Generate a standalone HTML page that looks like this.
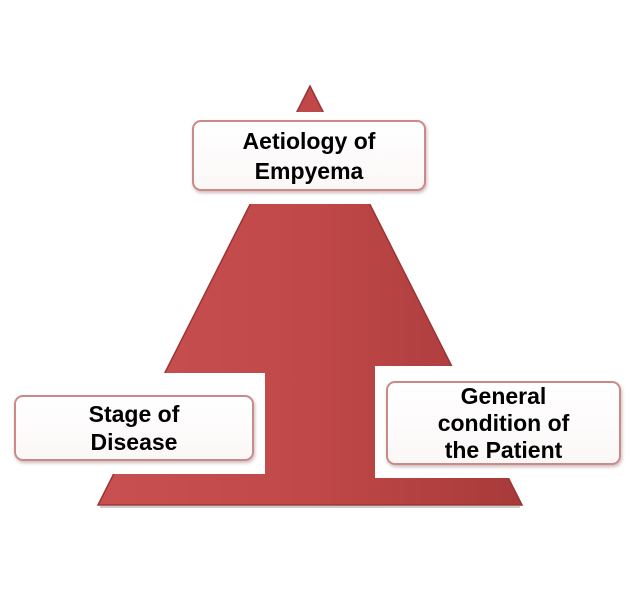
<!DOCTYPE html>
<html><head><style>
body{margin:0;width:630px;height:601px;background:#fff;position:relative;overflow:hidden;font-family:"Liberation Sans",Arial,sans-serif}
.bk{position:absolute;background:#fff}
.box{position:absolute;border:2px solid #c98a8a;border-radius:9px;background:linear-gradient(#fff,#fbf7f7);box-shadow:1px 2px 3px rgba(120,60,60,.35);display:flex;align-items:center;justify-content:center;text-align:center;font-weight:bold;font-size:23px;line-height:28px;color:#000;box-sizing:border-box}
</style></head><body>
<svg width="630" height="601" style="position:absolute;left:0;top:0">
<defs><linearGradient id="g" x1="0" y1="0" x2="1" y2="0">
<stop offset="0" stop-color="#c85050"/><stop offset=".5" stop-color="#c04848"/><stop offset="1" stop-color="#a83a3a"/></linearGradient></defs>
<polygon points="310,86 98,505 522,505" fill="url(#g)" stroke="#9a3535" stroke-width="1.5"/>
<line x1="100" y1="507" x2="520" y2="507" stroke="#ccc" stroke-width="2"/>
</svg>
<div class="bk" style="left:185px;top:112px;width:250px;height:92px"></div>
<div class="bk" style="left:0;top:373px;width:265px;height:101px"></div>
<div class="bk" style="left:375px;top:366px;width:255px;height:112px"></div>
<div class="box" style="left:192px;top:120px;width:234px;height:71px;line-height:30px">Aetiology of<br>Empyema</div>
<div class="box" style="left:14px;top:395px;width:240px;height:66px">Stage of<br>Disease</div>
<div class="box" style="left:386px;top:381px;width:235px;height:84px;line-height:27px">General<br>condition of<br>the Patient</div>
</body></html>
